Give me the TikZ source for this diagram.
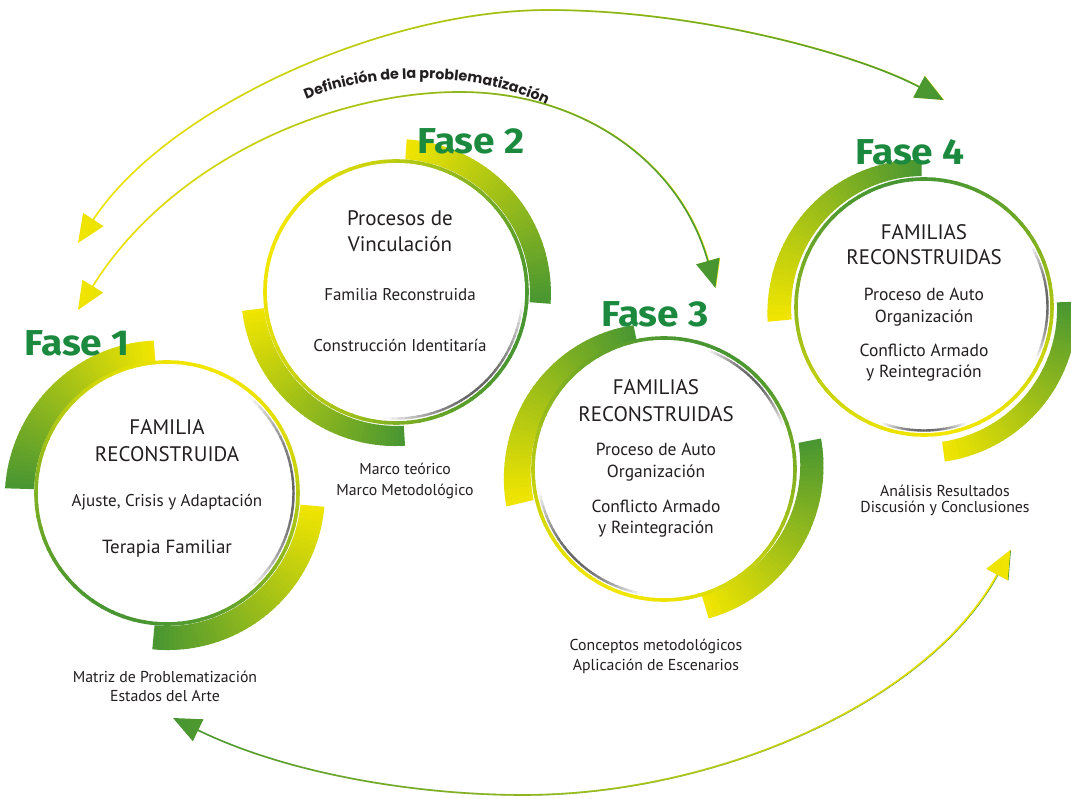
\documentclass[tikz,border=0pt]{standalone}
\usepackage{fontspec}
\setmainfont{PT Sans}
\newfontfamily\fasefont{Fira Sans}[FakeStretch=1.08]
\newfontfamily\popfont{Poppins}
\usetikzlibrary{arrows.meta,fadings,decorations.text}
\definecolor{ycol}{RGB}{242,230,0}
\definecolor{gcol}{RGB}{72,150,50}
\definecolor{fasecol}{RGB}{28,138,62}
\definecolor{txtcol}{RGB}{35,31,32}
\tikzfading[name=fadeLR, left color=transparent!100, right color=transparent!0]

% tapered gradient sector: cx cy a1 a2 rin1 rout1 rin2 rout2 dir(1: yellow->green, 0: green->yellow)
\newcommand{\GradSector}[9]{%
  \foreach \k in {0,...,47}{%
    \pgfmathsetmacro{\angA}{#3+(#4-#3)*\k/48}%
    \pgfmathsetmacro{\angB}{#3+(#4-#3)*(\k+1.2)/48}%
    \pgfmathsetmacro{\inA}{#5+(#7-#5)*\k/48}%
    \pgfmathsetmacro{\inB}{#5+(#7-#5)*(\k+1.2)/48}%
    \pgfmathsetmacro{\outA}{#6+(#8-#6)*\k/48}%
    \pgfmathsetmacro{\outB}{#6+(#8-#6)*(\k+1.2)/48}%
    \pgfmathsetmacro{\mixp}{#9*100+(100-200*#9)*(\k+0.5)/48}%
    \pgfmathsetmacro{\qxa}{#1+\inA*cos(\angA)}%
    \pgfmathsetmacro{\qya}{#2+\inA*sin(\angA)}%
    \pgfmathsetmacro{\qxb}{#1+\inB*cos(\angB)}%
    \pgfmathsetmacro{\qyb}{#2+\inB*sin(\angB)}%
    \pgfmathsetmacro{\Qxa}{#1+\outA*cos(\angA)}%
    \pgfmathsetmacro{\Qya}{#2+\outA*sin(\angA)}%
    \pgfmathsetmacro{\Qxb}{#1+\outB*cos(\angB)}%
    \pgfmathsetmacro{\Qyb}{#2+\outB*sin(\angB)}%
    \fill[ycol!\mixp!gcol] (\qxa,\qya) -- (\qxb,\qyb) -- (\Qxb,\Qyb) -- (\Qxa,\Qya) -- cycle;
  }%
}
% thin gradient ring: cx cy r yellow-angle
\newcommand{\GradRing}[4]{%
  \foreach \k in {0,...,71}{%
    \pgfmathsetmacro{\angA}{\k*5}%
    \pgfmathsetmacro{\angB}{\k*5+5.8}%
    \pgfmathsetmacro{\mixp}{50+50*cos(\k*5+2.5-#4)}%
    \pgfmathsetmacro{\qxa}{#1+#3*cos(\angA)}%
    \pgfmathsetmacro{\qya}{#2+#3*sin(\angA)}%
    \draw[ringline, ycol!\mixp!gcol] (\qxa,\qya) arc[start angle=\angA, end angle=\angB, radius=#3pt];
  }%
}
% gray inner shadow: cx cy r a1 a2
\newcommand{\GradShade}[5]{%
  \foreach \k in {0,...,29}{%
    \pgfmathsetmacro{\angA}{#4+(#5-#4)*\k/30}%
    \pgfmathsetmacro{\angB}{#4+(#5-#4)*(\k+1.2)/30}%
    \pgfmathsetmacro{\mixp}{60*sin(180*(\k+0.5)/30)}%
    \pgfmathsetmacro{\qxa}{#1+#3*cos(\angA)}%
    \pgfmathsetmacro{\qya}{#2+#3*sin(\angA)}%
    \draw[shadeline, black!\mixp!white] (\qxa,\qya) arc[start angle=\angA, end angle=\angB, radius=#3pt];
  }%
}

\begin{document}
\begin{tikzpicture}[x=1pt,y=1pt,
  ringline/.style={line width=3.6pt, line cap=butt},
  shadeline/.style={line width=2.4pt, line cap=butt},
  fase/.style={font=\fasefont\bfseries\fontsize{36}{40}\selectfont, text=fasecol, anchor=base, inner sep=0pt},
  big/.style={font=\fontsize{21}{25}\selectfont, text=txtcol, anchor=base, inner sep=0pt},
  mid/.style={font=\fontsize{17.5}{20}\selectfont, text=txtcol, anchor=base, inner sep=0pt},
  small/.style={font=\fontsize{17}{20}\selectfont, text=txtcol, anchor=base, inner sep=0pt},
  terapia/.style={font=\fontsize{19}{22}\selectfont, text=txtcol, anchor=base, inner sep=0pt},
  lab/.style={font=\fontsize{15.8}{18}\selectfont, text=txtcol, anchor=base, inner sep=0pt},
  arrowline/.style={line width=1.6pt, {Triangle[length=28pt,width=24pt]}-{Triangle[length=28pt,width=24pt]}}
]
\useasboundingbox (0,0) rectangle (1071,798);
\fill[white] (0,0) rectangle (1071,798);
\clip (0,0) rectangle (1071,798);

% ---------- thick arcs ----------
\GradSector{167}{305}{95}{178}{132}{153}{133}{162}{1}
\GradSector{167}{305}{-5}{-95}{134}{158}{133}{157}{1}
\GradSector{396}{506}{86}{-4}{133}{153}{134}{155}{1}
\GradSector{396}{506}{187}{273}{133}{155}{134}{154}{1}
\GradSector{664}{329}{102}{193}{130}{147}{134}{162}{0}
\GradSector{664}{329}{11}{-73}{137}{160}{131}{156}{0}
\GradSector{924}{491}{91}{185}{131}{147}{133}{157}{0}
\GradSector{924}{491}{2}{-82}{133}{153}{136}{156}{0}

% ---------- thin rings ----------
\GradRing{167}{305}{131}{70}
\GradRing{396}{506}{131}{160}
\GradRing{664}{329}{131}{250}
\GradRing{924}{491}{128}{280}

% ---------- inner shadows ----------
\GradShade{167}{305}{126.5}{50}{-50}
\GradShade{396}{506}{126.5}{-5}{-95}
\GradShade{664}{329}{126.5}{70}{20}
\GradShade{664}{329}{126.5}{190}{260}
\GradShade{924}{491}{123.5}{30}{-25}
\GradShade{924}{491}{123.5}{-70}{-110}

% ---------- phase titles ----------
\node[fase] (fase1) at (77,442) {Fase 1};
\node[fase] (fase2) at (471,644) {Fase 2};
\node[fase] (fase3) at (655,471) {Fase 3};
\node[fase] (fase4) at (910,633) {Fase 4};

% ---------- circle texts ----------
\node[big] (c1a) at (167,363) {FAMILIA};
\node[big] (c1b) at (167,336) {RECONSTRUIDA};
\node[small] (c1c) at (167,291) {Ajuste, Crisis y Adaptación};
\node[terapia] (c1d) at (167,244) {Terapia Familiar};

\node[big] (c2a) at (400,572) {Procesos de};
\node[big] (c2b) at (400,546) {Vinculación};
\node[small] (c2c) at (400,497) {Familia Reconstruida};
\node[small] (c2d) at (400,446) {Construcción Identitaría};

\node[big] (c3a) at (656,403) {FAMILIAS};
\node[big] (c3b) at (656,376) {RECONSTRUIDAS};
\node[mid] (c3c) at (656,342) {Proceso de Auto};
\node[mid] (c3d) at (656,320) {Organización};
\node[mid] (c3e) at (656,285) {Conflicto Armado};
\node[mid] (c3f) at (656,264) {y Reintegración};

\node[big] (c4a) at (924,558) {FAMILIAS};
\node[big] (c4b) at (924,533) {RECONSTRUIDAS};
\node[mid] (c4c) at (924,497) {Proceso de Auto};
\node[mid] (c4d) at (924,475) {Organización};
\node[mid] (c4e) at (924,441) {Conflicto Armado};
\node[mid] (c4f) at (924,420) {y Reintegración};

% ---------- labels below ----------
\node[lab] (l2a) at (405,323) {Marco teórico};
\node[lab] (l2b) at (405,302) {Marco Metodológico};
\node[lab] (l1a) at (165,115) {Matriz de Problematización};
\node[lab] (l1b) at (165,96) {Estados del Arte};
\node[lab] (l3a) at (656,147) {Conceptos metodológicos};
\node[lab] (l3b) at (656,127) {Aplicación de Escenarios};
\node[lab] (l4a) at (945,301) {Análisis Resultados};
\node[lab] (l4b) at (945,285) {Discusión y Conclusiones};

% ---------- curved arrows ----------
\coordinate (o1) at (78,555);
\coordinate (om) at (548,788);
\coordinate (o2) at (944,698);
\draw[arrowline, ycol, postaction={draw, gcol, path fading=fadeLR, fit fading=true}]
  (o1) .. controls (165,688) and (380,788) .. (om) .. controls (700,788) and (860,743) .. (o2);

\coordinate (i1) at (78,488);
\coordinate (im) at (460,706);
\coordinate (i2) at (716,510);
\draw[arrowline, ycol, postaction={draw, gcol, path fading=fadeLR, fit fading=true}]
  (i1) .. controls (170,636) and (330,706) .. (im) .. controls (580,706) and (680,638) .. (i2);

\coordinate (b1) at (173,80);
\coordinate (bm) at (523,3);
\coordinate (b2) at (1011,248);
\draw[arrowline, gcol, postaction={draw, ycol, path fading=fadeLR, fit fading=true}]
  (b1) .. controls (290,23) and (420,3) .. (bm) .. controls (720,3) and (930,98) .. (b2);

% ---------- curved caption ----------
\coordinate (tp1) at (288,690);
\coordinate (tp2) at (564,683);
\path[decorate, decoration={text along path, text align=center,
  text={|\popfont\bfseries\fontsize{14.3}{15}\selectfont\color{txtcol}|Definición de la problematización}}]
  (tp1) .. controls (358,730) and (492,730) .. (tp2);
\end{tikzpicture}
\end{document}
